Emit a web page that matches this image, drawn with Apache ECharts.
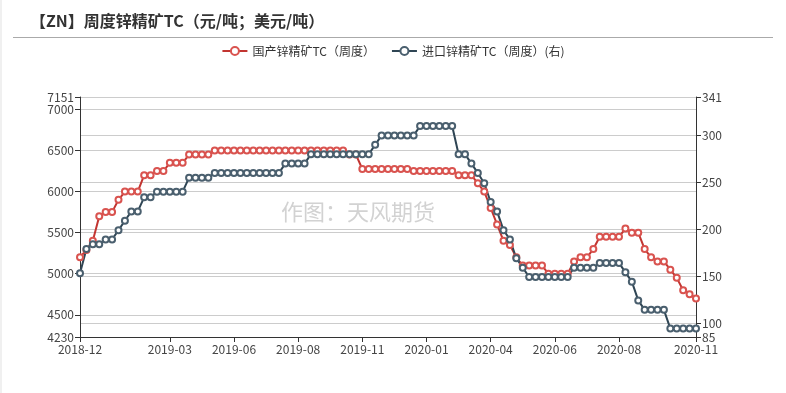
<!DOCTYPE html>
<html>
<head>
<meta charset="utf-8">
<script src="https://cdn.jsdelivr.net/npm/echarts@6/dist/echarts.min.js"></script>
<style>
html,body{margin:0;padding:0;background:#fff;}
#chart{width:786px;height:393px;}
</style>
</head>
<body>
<div id="chart"></div>
<script>
// Weekly dates (categories)
var dates = [
'2018-12-07','2018-12-14','2018-12-21','2018-12-28','2019-01-04','2019-01-11','2019-01-18','2019-01-25','2019-02-01','2019-02-15',
'2019-02-22','2019-03-01','2019-03-08','2019-03-15','2019-03-22','2019-03-29','2019-04-05','2019-04-12','2019-04-19','2019-04-26',
'2019-05-10','2019-05-17','2019-05-24','2019-05-31','2019-06-07','2019-06-14','2019-06-21','2019-06-28','2019-07-05','2019-07-12',
'2019-07-19','2019-07-26','2019-08-02','2019-08-09','2019-08-16','2019-08-23','2019-08-30','2019-09-06','2019-09-13','2019-09-20',
'2019-09-27','2019-10-11','2019-10-18','2019-10-25','2019-11-01','2019-11-08','2019-11-15','2019-11-22','2019-11-29','2019-12-06',
'2019-12-13','2019-12-20','2019-12-27','2020-01-03','2020-01-10','2020-01-17','2020-02-07','2020-02-14','2020-02-21','2020-02-28',
'2020-03-06','2020-03-13','2020-03-20','2020-03-27','2020-04-03','2020-04-10','2020-04-17','2020-04-24','2020-05-08','2020-05-15',
'2020-05-22','2020-05-29','2020-06-05','2020-06-12','2020-06-19','2020-06-26','2020-07-03','2020-07-10','2020-07-17','2020-07-24',
'2020-07-31','2020-08-07','2020-08-14','2020-08-21','2020-08-28','2020-09-04','2020-09-11','2020-09-18','2020-09-25','2020-10-09',
'2020-10-16','2020-10-23','2020-10-30','2020-11-06','2020-11-13','2020-11-20','2020-11-27'
];
// Indices of the dates whose month is shown as an x-axis label
var labelIndices = [0, 14, 24, 34, 44, 54, 64, 74, 84, 96];

// 国产锌精矿TC（周度）, 元/吨 (left axis)
var domesticTC = [
5200,5290,5400,5700,5750,5750,5900,6000,6000,6000,
6200,6200,6250,6250,6350,6350,6350,6450,6450,6450,
6450,6500,6500,6500,6500,6500,6500,6500,6500,6500,
6500,6500,6500,6500,6500,6500,6500,6500,6500,6500,
6500,6500,6450,6450,6275,6275,6275,6275,6275,6275,
6275,6275,6250,6250,6250,6250,6250,6250,6250,6200,
6200,6200,6100,6000,5800,5600,5400,5350,5200,5100,
5100,5100,5100,5000,5000,5000,5000,5150,5200,5200,
5300,5450,5450,5450,5450,5550,5500,5500,5300,5200,
5150,5150,5050,4950,4800,4750,4700
];
// 进口锌精矿TC（周度）, 美元/吨 (right axis)
var importTC = [
153,179,184,184,189,189,199,209,219,219,
234,234,240,240,240,240,240,255,255,255,
255,260,260,260,260,260,260,260,260,260,
260,260,270,270,270,270,280,280,280,280,
280,280,280,280,280,280,290,300,300,300,
300,300,300,310,310,310,310,310,310,280,
280,270,260,249,229,219,199,189,169,159,
149,149,149,149,149,149,149,159,159,159,
159,164,164,164,164,154,144,124,114,114,
114,114,94,94,94,94,94
];

var leftMin = 4230, leftMax = 7151;
var rightMin = 85, rightMax = 341;

var FONT = "'Noto Sans CJK SC', 'Noto Sans', sans-serif";
var chart = echarts.init(document.getElementById('chart'));
function showIdx(i){ return labelIndices.indexOf(i) >= 0; }
function plain(v){ return String(v); }

chart.setOption({
  animation: false,
  backgroundColor: '#fff',
  textStyle: { fontFamily: FONT },
  title: {
    text: '【ZN】周度锌精矿TC（元/吨；美元/吨）',
    left: 25, top: 8,
    textStyle: { fontSize: 16, fontWeight: 'bold', color: '#333', fontFamily: FONT }
  },
  legend: {
    top: 40, left: 'center',
    itemWidth: 25, itemHeight: 10, itemGap: 16,
    textStyle: { fontSize: 12, color: '#333', fontFamily: FONT },
    data: ['国产锌精矿TC（周度）', '进口锌精矿TC（周度）(右)']
  },
  graphic: [
    { type: 'line', shape: { x1: 13, y1: 37.5, x2: 773, y2: 37.5 }, style: { stroke: '#aaa', lineWidth: 1 } },
    { type: 'rect', shape: { x: 0, y: 0, width: 2, height: 393 }, style: { fill: '#f0f0f0' } },
    { type: 'text', left: 281, top: 201, z: 0,
      style: { text: '作图：天风期货', fontSize: 22, fill: '#d2d2d2', fontFamily: FONT } }
  ],
  grid: { left: 80, right: 90, top: 97, bottom: 56, containLabel: false },
  xAxis: {
    type: 'category',
    data: dates,
    boundaryGap: false,
    axisLine: { lineStyle: { color: '#333' } },
    axisTick: { interval: function(i){ return showIdx(i); }, lineStyle: { color: '#333' } },
    axisLabel: {
      interval: function(i){ return showIdx(i); },
      formatter: function(v){ return v.slice(0, 7); },
      color: '#444', fontSize: 12, margin: 6
    },
    splitLine: { show: false }
  },
  yAxis: [
    {
      type: 'value', position: 'left', min: leftMin, max: leftMax,
      axisLine: { show: true, lineStyle: { color: '#333' } },
      axisTick: { show: true, lineStyle: { color: '#333' } },
      axisLabel: { color: '#444', fontSize: 12, margin: 6, formatter: plain },
      splitLine: { show: true, lineStyle: { color: '#ccc' } }
    },
    {
      type: 'value', position: 'right', min: rightMin, max: rightMax,
      axisLine: { show: true, lineStyle: { color: '#333' } },
      axisTick: { show: true, lineStyle: { color: '#333' } },
      axisLabel: { color: '#444', fontSize: 12, margin: 6, formatter: plain },
      splitLine: { show: true, lineStyle: { color: '#ccc' } }
    }
  ],
  series: [
    {
      name: '国产锌精矿TC（周度）', type: 'line', yAxisIndex: 0,
      data: domesticTC, symbol: 'emptyCircle', symbolSize: 6, showAllSymbol: true,
      lineStyle: { color: '#c23531', width: 2 },
      itemStyle: { color: '#d9534f', borderColor: '#d44a4a', borderWidth: 1 }
    },
    {
      name: '进口锌精矿TC（周度）(右)', type: 'line', yAxisIndex: 1,
      data: importTC, symbol: 'emptyCircle', symbolSize: 6, showAllSymbol: true,
      lineStyle: { color: '#2f4554', width: 2 },
      itemStyle: { color: '#4a5f6e', borderColor: '#4a5f6e', borderWidth: 1 }
    }
  ]
});
</script>
</body>
</html>
